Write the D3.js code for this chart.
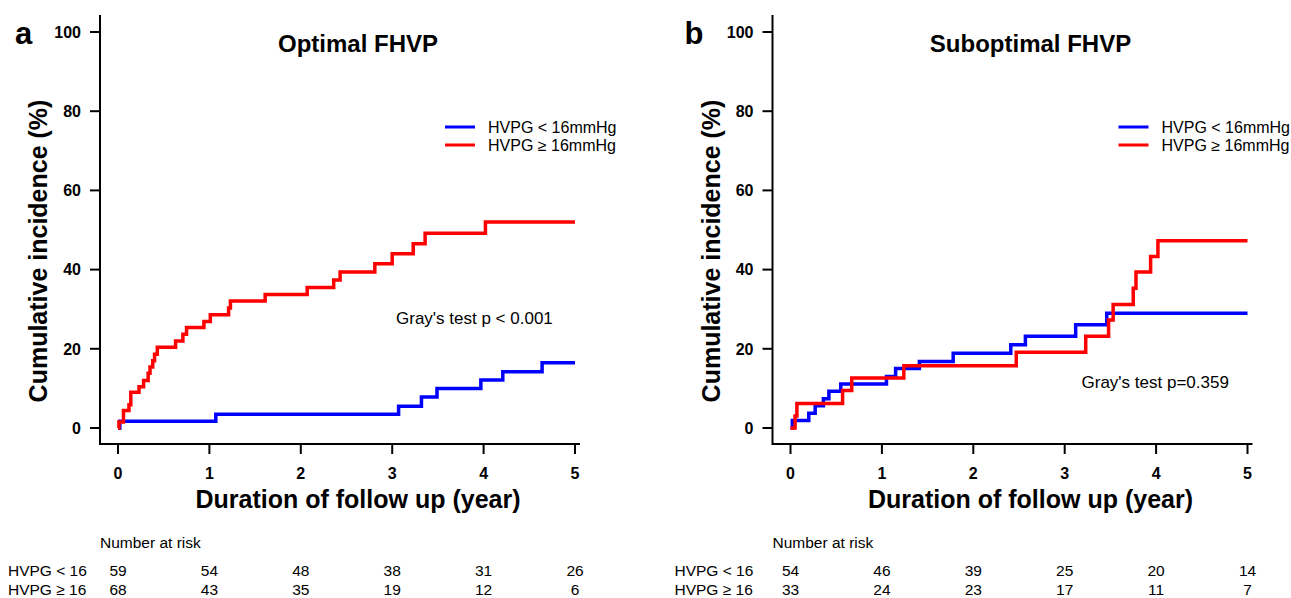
<!DOCTYPE html>
<html>
<head>
  <script src="https://d3js.org/d3.v7.min.js"></script>
  <style>
    body { margin: 0; background: #fff; }
    text { font-family: "Liberation Sans", Arial, sans-serif; fill: #000; }
  </style>
</head>
<body>
<script>
  // follow-up years at the ticks / risk table
  const years = [0, 1, 2, 3, 4, 5];
  const yTicks = [0, 20, 40, 60, 80, 100];

  // panel a: optimal FHVP
  const aLowT = [0, 0.02, 1.07, 3.07, 3.32, 3.49, 3.97, 4.21, 4.64, 5];
  const aLowV = [0, 1.7, 3.5, 5.5, 7.8, 10.0, 12.1, 14.2, 16.5, 16.5];
  const aHighT = [0, 0.01, 0.06, 0.12, 0.14, 0.23, 0.28, 0.33, 0.35, 0.38, 0.40, 0.43, 0.63, 0.71, 0.75,
                  0.94, 1.01, 1.21, 1.23, 1.61, 2.07, 2.36, 2.43, 2.81, 3.00, 3.23, 3.36, 4.02, 5];
  const aHighV = [0, 1.5, 4.4, 5.9, 9.0, 10.4, 12.0, 13.8, 15.4, 17.0, 18.6, 20.4, 22.0, 23.7, 25.4,
                  26.9, 28.6, 30.3, 32.1, 33.7, 35.5, 37.4, 39.4, 41.5, 44.0, 46.5, 49.2, 52.0, 52.0];
  const aRiskLow = [59, 54, 48, 38, 31, 26];
  const aRiskHigh = [68, 43, 35, 19, 12, 6];

  // panel b: suboptimal FHVP
  const bLowT = [0, 0.02, 0.20, 0.27, 0.36, 0.42, 0.55, 1.05, 1.15, 1.41, 1.78, 2.41, 2.57, 3.12, 3.46, 5];
  const bLowV = [0, 1.9, 3.7, 5.6, 7.4, 9.3, 11.1, 13.0, 15.0, 16.8, 18.9, 21.0, 23.2, 26.1, 29.0, 29.0];
  const bHighT = [0, 0.05, 0.07, 0.57, 0.67, 1.24, 2.47, 3.23, 3.48, 3.53, 3.75, 3.78, 3.94, 4.02, 5];
  const bHighV = [0, 3.0, 6.2, 9.5, 12.6, 15.7, 19.1, 23.2, 27.3, 31.2, 35.3, 39.4, 43.3, 47.3, 47.3];
  const bRiskLow = [54, 46, 39, 25, 20, 14];
  const bRiskHigh = [33, 24, 23, 17, 11, 7];

  const W = 1291, H = 598;
  const svg = d3.select("body").append("svg").attr("width", W).attr("height", H);

  function panel(p) {
    const g = svg.append("g").attr("transform", `translate(${p.off},0)`);
    const x = d3.scaleLinear().domain([0, 5]).range([118, 575]);
    const y = d3.scaleLinear().domain([0, 100]).range([428, 32]);
    const axL = 100, axB = 444;

    // L-shaped frame
    g.append("path")
      .attr("d", `M${axL},15V${axB}H${x(5) + 5}`)
      .attr("fill", "none").attr("stroke", "#000").attr("stroke-width", 2);

    g.selectAll(".yt").data(yTicks).enter().append("line")
      .attr("x1", axL).attr("x2", axL - 10)
      .attr("y1", d => y(d)).attr("y2", d => y(d))
      .attr("stroke", "#000").attr("stroke-width", 2);
    g.selectAll(".yl").data(yTicks).enter().append("text")
      .attr("x", 81).attr("y", d => y(d)).attr("dy", "0.36em")
      .attr("text-anchor", "end").attr("font-size", 16).attr("font-weight", "bold")
      .text(d => d);

    g.selectAll(".xt").data(years).enter().append("line")
      .attr("x1", d => x(d)).attr("x2", d => x(d))
      .attr("y1", axB).attr("y2", axB + 10)
      .attr("stroke", "#000").attr("stroke-width", 2);
    g.selectAll(".xl").data(years).enter().append("text")
      .attr("x", d => x(d)).attr("y", 479)
      .attr("text-anchor", "middle").attr("font-size", 16).attr("font-weight", "bold")
      .text(d => d);

    g.append("text").attr("x", 358).attr("y", 508).attr("text-anchor", "middle")
      .attr("font-size", 25).attr("font-weight", "bold").text("Duration of follow up (year)");
    g.append("text").attr("transform", "translate(47,251) rotate(-90)").attr("text-anchor", "middle")
      .attr("font-size", 25).attr("font-weight", "bold").text("Cumulative incidence (%)");
    g.append("text").attr("x", 358).attr("y", 52).attr("text-anchor", "middle")
      .attr("font-size", 24).attr("font-weight", "bold").text(p.title);
    g.append("text").attr("x", p.letterX).attr("y", 44)
      .attr("font-size", 31).attr("font-weight", "bold").text(p.letter);

    const line = d3.line().x(d => x(d[0])).y(d => y(d[1])).curve(d3.curveStepAfter);
    [[p.lowT, p.lowV, "#0000ff"], [p.highT, p.highV, "#ff0000"]].forEach(([t, v, c]) => {
      g.append("path").datum(d3.zip(t, v)).attr("d", line)
        .attr("fill", "none").attr("stroke", c).attr("stroke-width", 3.5);
    });

    // legend
    const lg = g.append("g").attr("transform", `translate(${p.legX},0)`);
    [["HVPG < 16mmHg", "#0000ff", 127], ["HVPG \u2265 16mmHg", "#ff0000", 145]].forEach(([s, c, yy]) => {
      lg.append("line").attr("x1", 0).attr("x2", 30).attr("y1", yy).attr("y2", yy)
        .attr("stroke", c).attr("stroke-width", 3);
      lg.append("text").attr("x", 43).attr("y", yy).attr("dy", "0.36em")
        .attr("font-size", 16).text(s);
    });

    g.append("text").attr("x", p.grayX).attr("y", p.grayY).attr("dy", "0.36em")
      .attr("font-size", 17).text(p.gray);

    // number at risk
    g.append("text").attr("x", p.riskX).attr("y", 548).attr("font-size", 15.5).text("Number at risk");
    [["HVPG < 16", p.riskLow, 576], ["HVPG \u2265 16", p.riskHigh, 595]].forEach(([s, vals, yy]) => {
      g.append("text").attr("x", p.rowX).attr("y", yy).attr("font-size", 15.5).text(s);
      g.selectAll(null).data(vals).enter().append("text")
        .attr("x", (d, i) => x(years[i])).attr("y", yy)
        .attr("text-anchor", "middle").attr("font-size", 15.5).text(d => d);
    });
  }

  panel({off: 0, title: "Optimal FHVP", letter: "a", letterX: 15,
         lowT: aLowT, lowV: aLowV, highT: aHighT, highV: aHighV,
         riskLow: aRiskLow, riskHigh: aRiskHigh,
         legX: 445, grayX: 396, grayY: 318, gray: "Gray's test p < 0.001",
         riskX: 100, rowX: 8});
  panel({off: 672.5, title: "Suboptimal FHVP", letter: "b", letterX: 12,
         lowT: bLowT, lowV: bLowV, highT: bHighT, highV: bHighV,
         riskLow: bRiskLow, riskHigh: bRiskHigh,
         legX: 446, grayX: 409, grayY: 382, gray: "Gray's test p=0.359",
         riskX: 100, rowX: 2});
</script>
</body>
</html>
